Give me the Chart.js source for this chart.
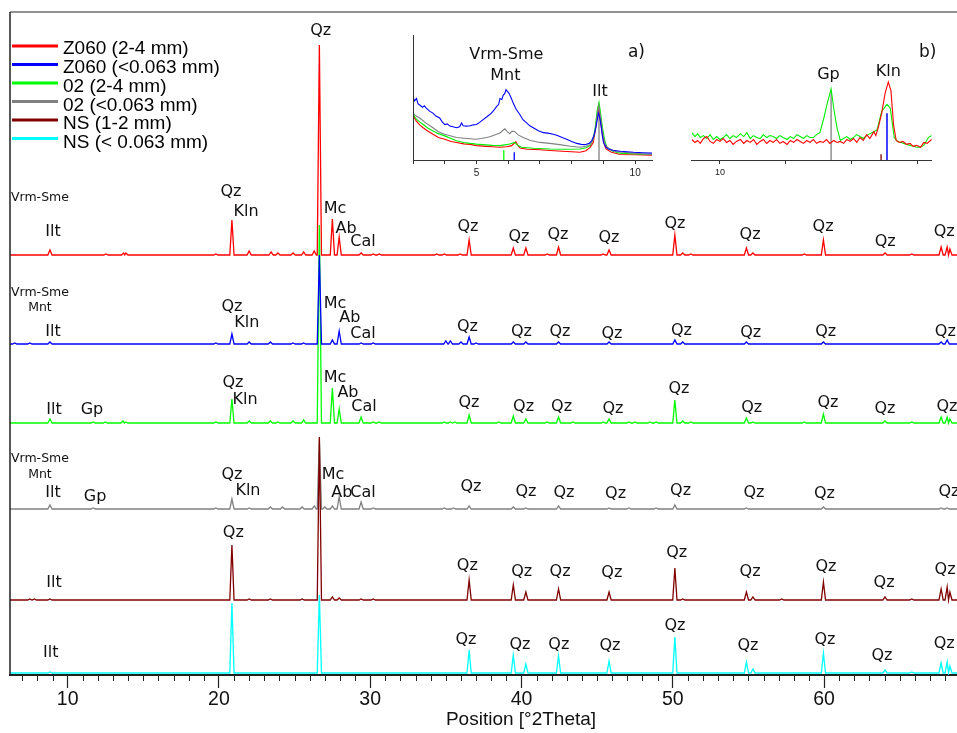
<!DOCTYPE html>
<html><head><meta charset="utf-8">
<script src="https://cdn.jsdelivr.net/npm/chart.js@4.4.1/dist/chart.umd.min.js"></script>
<style>
html,body{margin:0;padding:0;background:#fff;}
#wrap{position:relative;width:957px;height:733px;overflow:hidden;}
#main{position:absolute;left:0;top:0;}
#insetA{position:absolute;left:400px;top:20px;}
#insetB{position:absolute;left:680px;top:20px;}
</style></head><body>
<div id="wrap">
<canvas id="main" width="957" height="733"></canvas>
<canvas id="insetA" width="262" height="170"></canvas>
<canvas id="insetB" width="262" height="170"></canvas>
</div>
<script>
// ---------------- DATA ----------------
const seriesNames = ["Z060 (2-4 mm)", "Z060 (<0.063 mm)", "02 (2-4 mm)", "02 (<0.063 mm)", "NS (1-2 mm)", "NS (< 0.063 mm)"];
const seriesColors = ["#ff0000", "#0000ff", "#00ff00", "#808080", "#800000", "#00ffff"];
// vertical offset of each pattern (stacked display, intensity a.u.)
const offsets = [420, 331, 252, 166, 75, 2];
const xRange = [6.19, 68.79];
const xTitle = "Position [°2Theta]";

// peaks: [position °2θ, intensity above baseline]
const peaksZ060Coarse = [[8.83,5],[12.54,1],[13.7,2],[13.85,2],[19.8,1],[20.86,35],[22.0,4],[23.45,3],[23.9,2],[24.9,2],[25.6,3],[26.3,4],[26.64,210],[27.5,36],[27.95,18],[29.4,2],[30.2,1],[30.6,1],[34.4,1],[34.9,1],[35.95,1],[36.54,15],[39.46,7],[40.29,7],[41.7,1],[42.45,8],[45.4,1],[45.79,5],[50.14,20],[50.66,2],[51.2,1],[54.87,7],[55.3,2],[58.7,1],[59.96,15],[64.03,2],[65.8,1],[67.74,8],[68.14,8],[68.32,6]];
const peaksZ060Fine = [[6.5,1],[7.5,1],[8.83,2],[19.8,1],[20.86,10],[22.0,2],[23.4,2],[24.9,1],[25.6,1],[26.64,89],[27.5,4],[27.95,13],[29.4,1],[30.2,1],[35.0,3],[35.3,3],[36.0,2],[36.54,7],[37.0,1],[39.46,2],[40.29,2],[42.45,2],[45.79,2],[50.14,4],[50.66,2],[54.87,2],[59.96,2],[67.74,2],[68.14,4]];
const peaks02Coarse = [[8.83,4],[11.69,1],[12.5,1],[13.66,2],[13.85,1],[19.8,1],[20.86,24],[22.0,2],[23.4,2],[23.9,1],[24.9,2],[25.6,3],[26.64,198],[27.5,35],[27.95,14],[29.4,6],[30.2,1],[30.6,1],[34.9,1],[35.3,1],[35.6,1],[36.54,8],[38.5,1],[39.46,7],[40.29,4],[41.7,1],[42.45,6],[43.4,1],[45.4,1],[45.79,4],[47.1,1],[47.5,1],[48.5,1],[48.9,1],[50.14,23],[50.66,2],[51.2,1],[54.87,5],[55.3,1],[58.7,1],[59.96,9],[64.03,2],[65.8,1],[67.74,6],[68.14,6],[68.32,4]];
const peaks02Fine = [[8.83,4],[11.69,1],[19.8,1],[20.86,10],[22.0,1],[23.4,2],[24.2,2],[25.5,2],[26.3,3],[26.64,70],[27.0,2],[27.5,3],[27.95,12],[29.4,7],[30.2,1],[34.9,1],[35.5,1],[36.54,3],[39.46,2],[40.29,1],[42.45,3],[45.79,1],[47.1,1],[48.9,1],[50.14,4],[54.87,1],[59.96,2],[67.74,1],[68.14,1]];
const peaksNSCoarse = [[7.5,1],[7.8,1],[8.83,1],[20.86,55],[22.0,1],[23.4,1],[25.5,1],[26.64,163],[27.5,3],[27.95,2],[29.4,1],[30.2,1],[36.54,20],[39.46,15],[40.29,8],[42.45,11],[45.79,8],[50.14,32],[50.66,1],[54.87,8],[55.3,3],[57.2,1],[59.96,18],[64.03,3],[65.8,1],[67.74,11],[68.14,13],[68.32,8]];
const peaksNSFine = [[8.83,1],[20.86,70],[26.64,78],[36.54,23],[39.46,18],[40.29,9],[42.45,17],[45.79,12],[50.14,36],[54.87,11],[55.3,4],[59.96,20],[64.03,3],[65.8,1],[67.74,10],[68.14,11],[68.32,7]];

// phase labels: [text, °2θ, intensity]
const labelsZ060Coarse = [["Ilt",9.03,443],["Qz",20.80,483],["Kln",21.79,463],["Qz",26.73,644],["Mc",27.67,466],["Ab",28.40,446],["Cal",29.52,433],["Qz",36.46,448],["Qz",39.83,438],["Qz",42.41,440],["Qz",45.78,437],["Qz",50.15,451],["Qz",55.11,440],["Qz",59.94,448],["Qz",64.04,433],["Qz",67.94,443]];
const labelsZ060Fine = [["Ilt",9.03,343],["Qz",20.86,368],["Kln",21.85,352],["Mc",27.67,371],["Ab",28.66,357],["Cal",29.52,341],["Qz",36.43,348],["Qz",40.0,343],["Qz",42.54,343],["Qz",45.98,341],["Qz",50.57,344],["Qz",55.15,342],["Qz",60.11,343],["Qz",68.02,343]];
const labels02Coarse = [["Ilt",9.10,265],["Gp",11.61,265],["Qz",20.93,292],["Kln",21.73,275],["Mc",27.67,297],["Ab",28.53,282],["Cal",29.59,268],["Qz",36.53,272],["Qz",40.14,268],["Qz",42.65,268],["Qz",46.05,266],["Qz",50.41,286],["Qz",55.22,267],["Qz",60.26,272],["Qz",64.03,266],["Qz",68.13,268]];
const labels02Fine = [["Ilt",9.03,182],["Gp",11.81,178],["Qz",20.86,200],["Kln",21.92,184],["Mc",27.54,200],["Ab",28.13,182],["Cal",29.52,182],["Qz",36.66,188],["Qz",40.30,183],["Qz",42.81,182],["Qz",46.22,181],["Qz",50.52,184],["Qz",55.37,182],["Qz",60.03,181],["Qz",68.26,183]];
const labelsNSCoarse = [["Ilt",9.10,92],["Qz",20.95,142],["Qz",36.42,109],["Qz",40.01,103],["Qz",42.55,103],["Qz",45.97,102],["Qz",50.26,122],["Qz",55.11,103],["Qz",60.13,108],["Qz",63.97,92],["Qz",68.0,105]];
const labelsNSFine = [["Ilt",8.88,22],["Qz",36.33,35],["Qz",39.90,30],["Qz",42.47,30],["Qz",45.85,29],["Qz",50.15,49],["Qz",54.97,29],["Qz",60.06,35],["Qz",63.83,19],["Qz",67.94,31]];
const smallLabels = [["Vrm-Sme",8.17,477],["Vrm-Sme",8.17,382],["Mnt",8.17,367],["Vrm-Sme",8.17,216],["Mnt",8.17,200]];

// inset a) low-angle region, [°2θ, intensity]
const insetA_Z060Coarse = [[3.00,45.7],[3.10,40],[3.21,36],[3.32,33],[3.45,30],[3.63,26.3],[3.80,23],[4.00,21.3],[4.20,19],[4.37,18],[4.60,16.5],[4.80,16],[5.00,14.7],[5.30,14],[5.50,13.5],[5.74,13],[5.95,13.5],[6.11,14.7],[6.24,18.7],[6.30,15],[6.37,12.3],[6.60,11],[7.00,10.5],[7.32,9.7],[7.70,9],[8.00,8.5],[8.26,8],[8.45,9.5],[8.58,13],[8.68,18],[8.74,29.7],[8.80,45],[8.84,54],[8.89,44],[8.95,29.7],[9.02,17],[9.08,11.3],[9.25,8],[9.53,5.7],[10.0,5.3],[10.53,5]];
const insetA_Z060Fine = [[3.00,64.7],[3.05,60.5],[3.11,63],[3.16,57.5],[3.21,56.3],[3.30,54],[3.36,55.5],[3.42,53],[3.52,50],[3.63,48],[3.72,45],[3.84,43],[3.92,39],[4.00,36.3],[4.08,37],[4.16,34.7],[4.26,34],[4.37,33],[4.47,34],[4.53,38],[4.58,35],[4.68,34.7],[4.80,35],[4.90,36],[5.00,36.3],[5.10,38.5],[5.21,41.3],[5.32,44],[5.47,48],[5.55,51],[5.63,54.7],[5.70,57],[5.74,63],[5.80,62],[5.84,66.3],[5.89,68],[5.93,72],[5.98,70],[6.03,68],[6.10,63],[6.16,58],[6.25,52],[6.37,46.3],[6.47,41],[6.58,38],[6.68,35],[6.79,33],[6.95,30],[7.11,28],[7.25,27.5],[7.42,26.3],[7.55,25],[7.70,23],[7.84,21.3],[8.00,19],[8.16,17],[8.30,16],[8.42,15.7],[8.55,17],[8.63,19.7],[8.70,25],[8.76,33],[8.81,42],[8.84,48],[8.88,44],[8.92,36.3],[8.96,26],[9.00,18],[9.08,13],[9.16,11.3],[9.30,10],[9.53,9],[9.75,8.5],[9.95,8],[10.25,7.5],[10.53,7]];
const insetA_02Coarse = [[3.00,47],[3.10,42],[3.21,39],[3.32,36.3],[3.45,33],[3.63,29.7],[3.80,27],[4.00,24.7],[4.20,22],[4.37,19.7],[4.60,18],[4.80,17],[5.00,16.3],[5.30,15.5],[5.50,15],[5.74,14.7],[5.90,15.5],[6.05,16.3],[6.21,18],[6.30,15],[6.42,13],[6.80,12],[7.32,11.3],[7.80,11],[8.26,11.3],[8.45,12.5],[8.58,14.7],[8.68,22],[8.74,33],[8.80,50],[8.86,59],[8.91,48],[8.97,33],[9.04,20],[9.11,13],[9.30,9],[9.53,7],[10.0,6.2],[10.53,5.7]];
const insetA_02Fine = [[3.00,48],[3.10,45],[3.21,43],[3.40,38],[3.63,33],[3.80,29],[4.00,26.3],[4.20,24.5],[4.37,23],[4.70,22],[5.00,21.3],[5.15,22],[5.32,23],[5.45,24],[5.63,26.3],[5.75,28],[5.89,32],[5.97,29],[6.05,27],[6.12,29.5],[6.21,29],[6.30,26],[6.47,23],[6.70,20],[7.00,18],[7.30,17],[7.63,15.7],[7.95,14],[8.26,13],[8.45,14],[8.58,15.7],[8.67,20],[8.74,29.7],[8.80,45],[8.85,55.7],[8.90,46],[8.95,33],[9.00,23],[9.05,16.3],[9.15,12],[9.32,9],[9.60,8],[9.95,7],[10.25,6.3],[10.53,5.7]];
const insetA_sticks = [[[5.86,0],[5.86,10]], [[6.19,0],[6.19,8]], [[8.86,0],[8.86,56]]];

// inset b) Gp / Kln region, [°2θ, intensity]
const insetB_Z060Coarse = [[9.57,21],[9.62,18],[9.66,20],[9.70,17],[9.75,22],[9.80,24],[9.85,19],[9.90,17],[9.95,21],[10.00,19],[10.05,22],[10.10,18],[10.15,20],[10.20,16],[10.25,19],[10.31,21],[10.36,17],[10.41,20],[10.46,18],[10.51,21],[10.56,16],[10.61,19],[10.66,21],[10.71,17],[10.76,20],[10.81,18],[10.86,21],[10.91,17],[10.96,19],[11.02,16],[11.07,20],[11.12,18],[11.17,21],[11.22,19],[11.27,17],[11.32,20],[11.37,18],[11.42,21],[11.47,17],[11.52,19],[11.57,18],[11.62,21],[11.67,17],[11.73,20],[11.78,18],[11.83,19],[11.88,17],[11.93,21],[11.98,19],[12.03,22],[12.08,18],[12.13,23],[12.18,20],[12.23,26],[12.28,22],[12.34,29],[12.37,25],[12.41,34],[12.46,48],[12.51,68],[12.56,80],[12.60,71],[12.64,36],[12.68,20],[12.73,18],[12.78,19],[12.84,16],[12.89,17],[12.94,14],[12.99,15],[13.05,13],[13.10,18],[13.15,17],[13.22,21]];
const insetB_02Coarse = [[9.57,28],[9.62,24],[9.66,27],[9.70,23],[9.75,25],[9.80,22],[9.85,26],[9.90,21],[9.95,24],[10.00,21],[10.05,23],[10.10,26],[10.15,22],[10.20,25],[10.25,23],[10.31,27],[10.36,24],[10.41,28],[10.46,22],[10.51,25],[10.56,23],[10.61,22],[10.66,26],[10.71,23],[10.76,25],[10.81,24],[10.86,22],[10.91,25],[10.96,23],[11.02,21],[11.07,24],[11.12,22],[11.17,26],[11.22,24],[11.27,22],[11.32,25],[11.37,23],[11.42,23],[11.47,26],[11.52,28],[11.58,43],[11.62,55],[11.69,73],[11.73,53],[11.78,33],[11.83,20],[11.88,22],[11.93,24],[11.98,21],[12.03,23],[12.08,26],[12.13,24],[12.18,22],[12.23,25],[12.28,27],[12.34,29],[12.39,31],[12.46,50],[12.54,57],[12.59,53],[12.65,23],[12.70,19],[12.75,18],[12.84,16],[12.89,15],[12.94,14],[12.99,13],[13.05,13],[13.10,15],[13.17,23],[13.22,25]];
const insetB_sticks = [[[11.69,0],[11.69,70]], [[12.54,0],[12.54,48]], [[12.45,0],[12.45,6]]];

const insetA_labels = [["Vrm-Sme",5.94,108],["Mnt",5.91,86],["Ilt",8.89,70]];
const insetB_labels = [["Gp",11.65,87],["Kln",12.56,90]];
const insetTitles = ["a)", "b)"];

// ---------------- BUILD ----------------
const HW = 0.14;
function profile(peaks, base, lo, hi) {
  const pts = [{x: lo, y: base}];
  let lastX = lo;
  for (let i = 0; i < peaks.length; i++) {
    const p = peaks[i][0], h = peaks[i][1];
    if (p - HW > lastX) pts.push({x: p - HW, y: base});
    pts.push({x: p, y: base + h});
    const next = peaks[i + 1];
    if (next && p + HW > next[0] - HW) { const m = (p + next[0]) / 2; pts.push({x: m, y: base}); lastX = m; }
    else { pts.push({x: p + HW, y: base}); lastX = p + HW; }
  }
  pts.push({x: hi, y: base});
  return pts;
}
const allPeaks = [peaksZ060Coarse, peaksZ060Fine, peaks02Coarse, peaks02Fine, peaksNSCoarse, peaksNSFine];
const allLabels = [labelsZ060Coarse, labelsZ060Fine, labels02Coarse, labels02Fine, labelsNSCoarse, labelsNSFine];
const drawOrder = [6, 1, 4, 5, 2, 3];

const mainDatasets = allPeaks.map((pk, i) => ({
  label: seriesNames[i],
  data: profile(pk, offsets[i], xRange[0], xRange[1]),
  borderColor: seriesColors[i],
  borderWidth: 1.3,
  pointRadius: 0,
  showLine: true,
  tension: 0,
  order: drawOrder[i]
}));

const LABEL_FONT = '16px "DejaVu Sans", Verdana, sans-serif';
const SMALL_FONT = '12.5px "DejaVu Sans", Verdana, sans-serif';
const AXIS_FONT = '"Liberation Sans", Arial, sans-serif';

const mainDeco = {
  id: 'mainDeco',
  afterDatasetsDraw(chart) {
    const {ctx, chartArea: a, scales: {x, y}} = chart;
    ctx.save();
    // frame lines
    ctx.strokeStyle = '#6e6e6e'; ctx.lineWidth = 1.5;
    ctx.beginPath(); ctx.moveTo(a.left, a.top); ctx.lineTo(a.right, a.top); ctx.stroke();
    ctx.strokeStyle = '#222'; ctx.lineWidth = 1.5;
    ctx.beginPath(); ctx.moveTo(a.left, a.top); ctx.lineTo(a.left, a.bottom); ctx.stroke();
    // minor ticks
    ctx.strokeStyle = '#222'; ctx.lineWidth = 1;
    x.ticks.forEach(t => {
      if (t.value % 10 !== 0) {
        const px = Math.round(x.getPixelForValue(t.value)) + 0.5;
        ctx.beginPath(); ctx.moveTo(px, a.bottom); ctx.lineTo(px, a.bottom + 6); ctx.stroke();
      }
    });
    // axis title (placed under the 40° tick as in the original)
    ctx.fillStyle = '#111'; ctx.textAlign = 'center'; ctx.textBaseline = 'middle';
    ctx.font = '19px ' + AXIS_FONT;
    ctx.fillText(xTitle, x.getPixelForValue(39.97), a.bottom + 45);
    // phase labels
    ctx.font = LABEL_FONT;
    allLabels.forEach(arr => arr.forEach(l => ctx.fillText(l[0], x.getPixelForValue(l[1]), y.getPixelForValue(l[2]))));
    ctx.font = SMALL_FONT;
    smallLabels.forEach(l => ctx.fillText(l[0], x.getPixelForValue(l[1]), y.getPixelForValue(l[2])));
    // legend
    ctx.textAlign = 'left';
    ctx.font = '19px ' + AXIS_FONT;
    chart.data.datasets.forEach((ds, i) => {
      const ly = 46 + i * 18.5;
      ctx.strokeStyle = ds.borderColor; ctx.lineWidth = 3;
      ctx.beginPath(); ctx.moveTo(12, ly); ctx.lineTo(58, ly); ctx.stroke();
      ctx.fillStyle = '#000';
      ctx.fillText(ds.label, 63, 49 + i * 18.8);
    });
    ctx.restore();
  }
};

new Chart(document.getElementById('main'), {
  type: 'scatter',
  data: {datasets: mainDatasets},
  options: {
    responsive: false,
    animation: false,
    layout: {padding: {left: 10, top: 12, right: 0, bottom: 21.6}},
    plugins: {legend: {display: false}, tooltip: {enabled: false}},
    scales: {
      x: {
        type: 'linear', min: xRange[0], max: xRange[1],
        border: {display: true, color: '#222', width: 2},
        grid: {drawOnChartArea: false, drawTicks: true, tickLength: 13, tickWidth: 1.2,
          tickColor: c => (c.tick && c.tick.value % 10 === 0) ? '#222' : 'rgba(0,0,0,0)'},
        ticks: {stepSize: 1, autoSkip: false, includeBounds: false, maxRotation: 0, padding: 0,
          color: '#111', font: {family: AXIS_FONT, size: 19.5},
          callback: v => (v % 10 === 0 ? String(v) : '')},
        title: {display: false}
      },
      y: {display: false, min: 0, max: 663}
    }
  },
  plugins: [mainDeco]
});

// ---------------- INSETS ----------------
function lineDs(data, color, w) {
  return {data: data.map(p => ({x: p[0], y: p[1]})), borderColor: color, borderWidth: w || 1.1,
    pointRadius: 0, showLine: true, tension: 0};
}
function insetDeco(labels, title, titleX, leftAxis) {
  return {
    id: 'insetDeco',
    afterDatasetsDraw(chart) {
      const {ctx, chartArea: a, scales: {x, y}} = chart;
      ctx.save();
      if (leftAxis) {
        ctx.strokeStyle = '#333'; ctx.lineWidth = 1;
        ctx.beginPath(); ctx.moveTo(a.left + 0.5, a.top); ctx.lineTo(a.left + 0.5, a.bottom); ctx.stroke();
      }
      ctx.fillStyle = '#111'; ctx.textAlign = 'center'; ctx.textBaseline = 'middle';
      ctx.font = LABEL_FONT;
      labels.forEach(l => ctx.fillText(l[0], x.getPixelForValue(l[1]), y.getPixelForValue(l[2])));
      ctx.font = '17px "DejaVu Sans", Verdana, sans-serif';
      ctx.fillText(title, x.getPixelForValue(titleX), y.getPixelForValue(110.5));
      ctx.restore();
    }
  };
}
function makeInset(id, datasets, xmin, xmax, pad, shown, fontSize, labels, title, titleX, leftAxis) {
  new Chart(document.getElementById(id), {
    type: 'scatter',
    data: {datasets},
    options: {
      responsive: false, animation: false,
      layout: {padding: pad},
      plugins: {legend: {display: false}, tooltip: {enabled: false}},
      scales: {
        x: {type: 'linear', min: xmin, max: xmax,
          border: {display: true, color: '#333', width: 1},
          grid: {drawOnChartArea: false, drawTicks: true, tickLength: 4, tickColor: '#333'},
          ticks: {stepSize: 1, autoSkip: false, includeBounds: false, maxRotation: 0, padding: 3,
            color: '#222', font: {family: AXIS_FONT, size: fontSize},
            callback: v => (shown.includes(v) ? String(v) : '')}},
        y: {display: false, min: 0, max: 128}
      }
    },
    plugins: [insetDeco(labels, title, titleX, leftAxis)]
  });
}
makeInset('insetA', [
  lineDs(insetA_sticks[0], '#00ff00', 1.3), lineDs(insetA_sticks[1], '#0000ff', 1.3), lineDs(insetA_sticks[2], '#808080', 1.3),
  lineDs(insetA_Z060Coarse, '#ff0000'), lineDs(insetA_02Coarse, '#00ee00'), lineDs(insetA_02Fine, '#808080'), lineDs(insetA_Z060Fine, '#0000ff')
].reverse(), 3.0, 10.53, {left: 13, right: 10, top: 15, bottom: 8}, [5, 10], 10, insetA_labels, insetTitles[0], 10.04, true);

makeInset('insetB', [
  lineDs(insetB_sticks[0], '#808080', 1.3), lineDs(insetB_sticks[1], '#0000ff', 1.5), lineDs(insetB_sticks[2], '#800000', 1.3),
  lineDs(insetB_02Coarse, '#00ee00'), lineDs(insetB_Z060Coarse, '#ff0000')
].reverse(), 9.57, 13.22, {left: 11.7, right: 10.3, top: 15, bottom: 9.2}, [10], 9, insetB_labels, insetTitles[1], 13.16, false);
</script>
</body></html>
